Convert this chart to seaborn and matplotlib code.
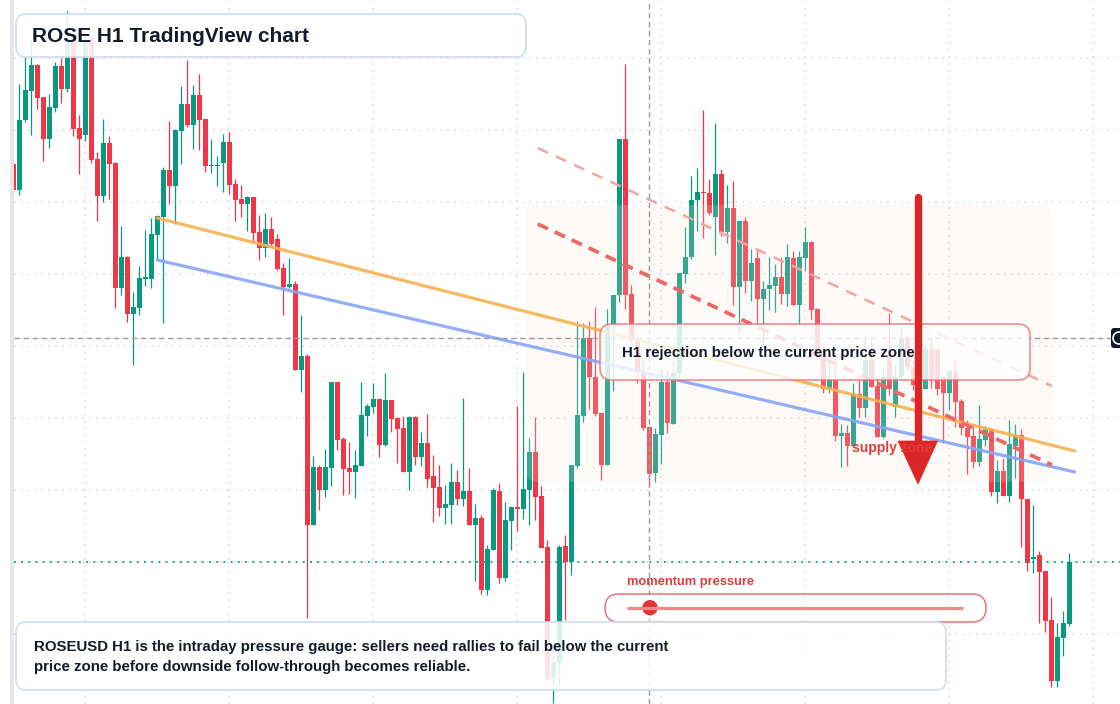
import numpy as np
import pandas as pd
import matplotlib
matplotlib.use("Agg")
import matplotlib.pyplot as plt
from matplotlib.patches import FancyBboxPatch, Rectangle, Polygon, Circle
import seaborn as sns

# ROSEUSD H1 candles, prices in units of 1e-5 USD (2142 -> 0.02142)
opens = [
    2540, 2514, 2584, 2613, 2639, 2607, 2565, 2596, 2638, 2615,
    2666, 2576, 2569, 2666, 2545, 2508, 2561, 2541, 2416, 2447,
    2390, 2396, 2425, 2425, 2469, 2487, 2534, 2518, 2573, 2600,
    2579, 2609, 2585, 2538, 2538, 2541, 2562, 2520, 2505, 2500,
    2507, 2472, 2456, 2475, 2465, 2436, 2417, 2420, 2334, 2348,
    2179, 2237, 2214, 2236, 2322, 2265, 2236, 2232, 2238, 2288,
    2297, 2305, 2259, 2304, 2286, 2276, 2232, 2287, 2247, 2261,
    2228, 2217, 2196, 2199, 2222, 2205, 2213, 2179, 2186, 2114,
    2154, 2213, 2126, 2183, 2197, 2195, 2214, 2252, 2208, 2157,
    2026, 2041, 2158, 2142, 2238, 2288, 2366, 2327, 2291, 2239,
    2378, 2409, 2565, 2410, 2364, 2332, 2277, 2231, 2269, 2322,
    2280, 2331, 2430, 2447, 2504, 2512, 2511, 2487, 2530, 2472,
    2496, 2417, 2483, 2423, 2446, 2405, 2415, 2418, 2427, 2410,
    2446, 2399, 2446, 2462, 2395, 2354, 2315, 2324, 2268, 2271,
    2258, 2310, 2296, 2344, 2318, 2267, 2349, 2297, 2327, 2366,
    2337, 2319, 2315, 2355, 2355, 2327, 2311, 2333, 2303, 2276,
    2268, 2242, 2264, 2275, 2212, 2233, 2208, 2258, 2269, 2205,
    2145, 2149, 2133, 2084, 2023, 2066, 2080,
]
highs = [
    2544, 2620, 2649, 2664, 2640, 2607, 2610, 2642, 2646, 2693,
    2669, 2589, 2668, 2669, 2552, 2585, 2568, 2542, 2478, 2448,
    2412, 2438, 2474, 2486, 2489, 2537, 2583, 2575, 2618, 2644,
    2619, 2630, 2585, 2565, 2548, 2570, 2572, 2525, 2519, 2508,
    2507, 2489, 2491, 2487, 2470, 2441, 2446, 2423, 2389, 2350,
    2248, 2239, 2255, 2322, 2322, 2267, 2262, 2254, 2322, 2300,
    2321, 2305, 2331, 2304, 2287, 2288, 2288, 2288, 2272, 2290,
    2249, 2239, 2219, 2241, 2234, 2306, 2236, 2200, 2189, 2159,
    2216, 2221, 2202, 2197, 2298, 2332, 2266, 2287, 2218, 2164,
    2059, 2159, 2169, 2239, 2383, 2381, 2383, 2397, 2291, 2395,
    2409, 2565, 2640, 2419, 2366, 2344, 2277, 2276, 2335, 2335,
    2343, 2431, 2477, 2528, 2536, 2594, 2525, 2581, 2535, 2519,
    2523, 2483, 2487, 2455, 2455, 2423, 2447, 2440, 2447, 2460,
    2453, 2453, 2477, 2463, 2396, 2359, 2345, 2346, 2280, 2279,
    2321, 2327, 2369, 2367, 2327, 2336, 2391, 2339, 2377, 2369,
    2344, 2329, 2359, 2366, 2355, 2327, 2334, 2344, 2305, 2284,
    2280, 2299, 2278, 2275, 2244, 2246, 2284, 2280, 2275, 2205,
    2199, 2153, 2133, 2107, 2081, 2093, 2151,
]
lows = [
    2509, 2509, 2582, 2569, 2595, 2543, 2556, 2592, 2601, 2612,
    2568, 2530, 2563, 2541, 2483, 2502, 2505, 2396, 2409, 2382,
    2339, 2389, 2418, 2416, 2445, 2381, 2500, 2480, 2540, 2577,
    2555, 2554, 2532, 2531, 2518, 2512, 2510, 2483, 2487, 2473,
    2461, 2444, 2447, 2457, 2434, 2389, 2416, 2334, 2312, 2086,
    2179, 2194, 2207, 2218, 2254, 2209, 2210, 2206, 2238, 2268,
    2291, 2247, 2258, 2272, 2241, 2232, 2214, 2239, 2238, 2217,
    2182, 2188, 2180, 2180, 2199, 2198, 2179, 2123, 2110, 2109,
    2154, 2121, 2123, 2154, 2173, 2185, 2179, 2184, 2156, 2022,
    2001, 2019, 2084, 2129, 2236, 2282, 2295, 2288, 2224, 2239,
    2313, 2402, 2395, 2362, 2321, 2274, 2217, 2222, 2240, 2271,
    2280, 2324, 2421, 2445, 2473, 2466, 2489, 2449, 2468, 2461,
    2399, 2370, 2411, 2403, 2381, 2356, 2394, 2392, 2400, 2398,
    2399, 2380, 2433, 2385, 2349, 2311, 2311, 2263, 2237, 2238,
    2258, 2287, 2287, 2317, 2267, 2266, 2309, 2287, 2326, 2334,
    2314, 2309, 2315, 2316, 2309, 2261, 2294, 2277, 2269, 2230,
    2236, 2238, 2258, 2208, 2201, 2208, 2202, 2226, 2157, 2133,
    2131, 2081, 2072, 2017, 2017, 2048, 2078,
]
closes = [
    2514, 2584, 2614, 2639, 2606, 2565, 2597, 2638, 2615, 2664,
    2575, 2565, 2664, 2544, 2508, 2561, 2540, 2416, 2447, 2390,
    2397, 2426, 2427, 2470, 2488, 2534, 2518, 2574, 2600, 2579,
    2609, 2584, 2538, 2539, 2539, 2562, 2519, 2504, 2500, 2507,
    2471, 2456, 2475, 2460, 2435, 2417, 2420, 2334, 2348, 2179,
    2237, 2214, 2237, 2322, 2264, 2235, 2232, 2239, 2289, 2298,
    2305, 2259, 2304, 2285, 2275, 2232, 2287, 2247, 2261, 2225,
    2216, 2196, 2200, 2222, 2205, 2213, 2179, 2186, 2114, 2155,
    2214, 2126, 2184, 2197, 2195, 2215, 2252, 2207, 2156, 2025,
    2042, 2157, 2142, 2239, 2289, 2366, 2327, 2290, 2239, 2378,
    2409, 2565, 2409, 2364, 2332, 2276, 2230, 2270, 2322, 2281,
    2331, 2431, 2447, 2504, 2512, 2511, 2491, 2530, 2472, 2496,
    2417, 2483, 2423, 2441, 2405, 2415, 2419, 2427, 2410, 2447,
    2399, 2447, 2462, 2394, 2354, 2315, 2325, 2268, 2271, 2258,
    2310, 2296, 2344, 2317, 2267, 2327, 2315, 2327, 2366, 2337,
    2319, 2315, 2355, 2325, 2315, 2311, 2333, 2302, 2276, 2267,
    2242, 2265, 2275, 2212, 2233, 2208, 2260, 2269, 2205, 2141,
    2147, 2132, 2083, 2023, 2067, 2081, 2142,
]

# chart drawings (bar index, price)
trend_orange = ([24.0, 176.9], [2486, 2253])
trend_blue = ([24.0, 2444], [176.9, 2232])
channel_main = ([87.4, 173.1], [2480, 2239])
channel_upper = ([87.4, 173.1], [2556, 2318])
supply_zone = (85.4, 173.1, 2222, 2499)
last_price = 2142
cross_bar, cross_price = 106.0, 2365.7

title = "ROSE H1 TradingView chart"
note_lines = ["ROSEUSD H1 is the intraday pressure gauge: sellers need rallies to fail below the current",
              "price zone before downside follow-through becomes reliable."]
zone_note = "H1 rejection below the current price zone"

GREEN, RED = "#089981", "#f23645"
INK = "#131a2a"

sns.set_theme(style="white")
plt.rcParams["font.family"] = ["Liberation Sans", "DejaVu Sans"]

df = pd.DataFrame({"open": opens, "high": highs, "low": lows, "close": closes})
df["bar"] = np.arange(len(df))
df["color"] = np.where(df["close"] >= df["open"], GREEN, RED)
df["body_lo"] = df[["open", "close"]].min(axis=1)
df["body_h"] = (df["close"] - df["open"]).abs().clip(lower=1.3)

W, H = 1120, 704
fig = plt.figure(figsize=(W / 100, H / 100), dpi=100)
left = 14 / W
ax = fig.add_axes([left, 0, 1 - left, 1])
ax.set_xlim((14 - 13.33) / 6, (W - 13.33) / 6)
ax.set_ylim(2000, 2704)

# grid
ax.set_xticks(np.arange(12, 185, 24))
ax.set_yticks(np.arange(2069.7, 2704, 72))
ax.grid(True, color="#d4d6da", linestyle=(0, (1, 3.5)), linewidth=1.1)
ax.tick_params(length=0, labelbottom=False, labelleft=False)
for s in ax.spines.values():
    s.set_visible(False)

# candles
ax.vlines(df["bar"], df["low"], df["high"], colors=df["color"], linewidth=0.9, zorder=2)
ax.bar(df["bar"], df["body_h"], bottom=df["body_lo"], width=0.78,
       color=df["color"], linewidth=0, zorder=3)

# supply zone wash
x0, x1, y0, y1 = supply_zone
ax.add_patch(FancyBboxPatch((x0, y0), x1 - x0, y1 - y0,
                            boxstyle="round,pad=0,rounding_size=2", mutation_aspect=6,
                            fc="#f9e2d8", alpha=0.2, lw=0, zorder=4))

# trend lines
sns.lineplot(x=trend_orange[0], y=trend_orange[1], ax=ax, color="#f6b14f",
             linewidth=2.3, alpha=0.9, zorder=5)
sns.lineplot(x=[trend_blue[0][0], trend_blue[1][0]], y=[trend_blue[0][1], trend_blue[1][1]],
             ax=ax, color="#86a5f4", linewidth=2.3, alpha=0.9, zorder=5)
ax.plot(channel_upper[0], channel_upper[1], color="#f4a3a3", linewidth=1.8,
        linestyle=(0, (4.5, 3.5)), zorder=5)
ax.plot(channel_main[0], channel_main[1], color="#e96868", linewidth=2.7,
        linestyle=(0, (3, 2)), zorder=5)

# price line and crosshair
ax.axhline(last_price, color=GREEN, linestyle=(0, (1, 3)), linewidth=1.3, zorder=5)
ax.axvline(cross_bar, color="#9c9c9c", linestyle=(0, (4, 2.5)), linewidth=1, zorder=6)
ax.axhline(cross_price, color="#9c9c9c", linestyle=(0, (4, 2.5)), linewidth=1, zorder=6)

# overlay in pixel units for the annotation boxes
ov = fig.add_axes([0, 0, 1, 1])
ov.set_xlim(0, W)
ov.set_ylim(H, 0)
ov.axis("off")
ov.patch.set_alpha(0)

ov.add_patch(Rectangle((10, 0), 4, H, color="#e6e6e6", lw=0))

# title
ov.add_patch(FancyBboxPatch((16, 14), 510, 43, boxstyle="round,pad=0,rounding_size=10",
                            fc=(1, 1, 1, 0.88), ec="#cfdcf2", lw=1.2))
ov.text(32, 36.5, title, fontsize=15, fontweight="bold", color=INK, va="center")

# rejection note
ov.add_patch(FancyBboxPatch((600, 324), 430, 56, boxstyle="round,pad=0,rounding_size=12",
                            fc=(1, 1, 1, 0.8), ec=(0.91, 0.45, 0.45, 0.75), lw=1.3))
ov.text(622, 353, zone_note, fontsize=10.8, fontweight="bold", color=INK, va="center")

# supply label and arrow
ov.text(852, 448, "supply zone", fontsize=10, fontweight="bold", color="#e03b3b", va="center")
ov.plot([917.5, 917.5], [197, 445], color="#dc2626", linewidth=5.3, solid_capstyle="round")
ov.add_patch(Polygon([(898, 441), (937.5, 441), (918, 484)], closed=True,
                     fc="#dc2626", ec="#dc2626", lw=0.5))

# momentum gauge
ov.text(627, 582, "momentum pressure", fontsize=9.3, fontweight="bold", color="#e03b3b", va="center")
ov.add_patch(FancyBboxPatch((605, 594), 381, 28, boxstyle="round,pad=0,rounding_size=14",
                            fc=(1, 1, 1, 0.5), ec=(0.88, 0.36, 0.36, 0.85), lw=1.1))
ov.plot([627, 963], [607.7, 607.7], color="#f08888", linewidth=2.3, solid_capstyle="butt")
ov.add_patch(Circle((650, 607.7), 7, color="#e03535"))

# bottom note
ov.add_patch(FancyBboxPatch((16, 622), 930, 68, boxstyle="round,pad=0,rounding_size=10",
                            fc=(1, 1, 1, 0.86), ec="#cfdcf2", lw=1.2))
ov.text(34, 647, note_lines[0], fontsize=10.8, fontweight="bold", color=INK, va="center")
ov.text(34, 667, note_lines[1], fontsize=10.8, fontweight="bold", color=INK, va="center")

# crosshair price tag on the right edge
ov.add_patch(FancyBboxPatch((1111, 328), 14, 20, boxstyle="round,pad=0,rounding_size=3",
                            fc="#131722", lw=0))
ov.add_patch(Circle((1119, 338), 6, fc="none", ec="white", lw=1.2))

fig.savefig("out.png", dpi=100)
